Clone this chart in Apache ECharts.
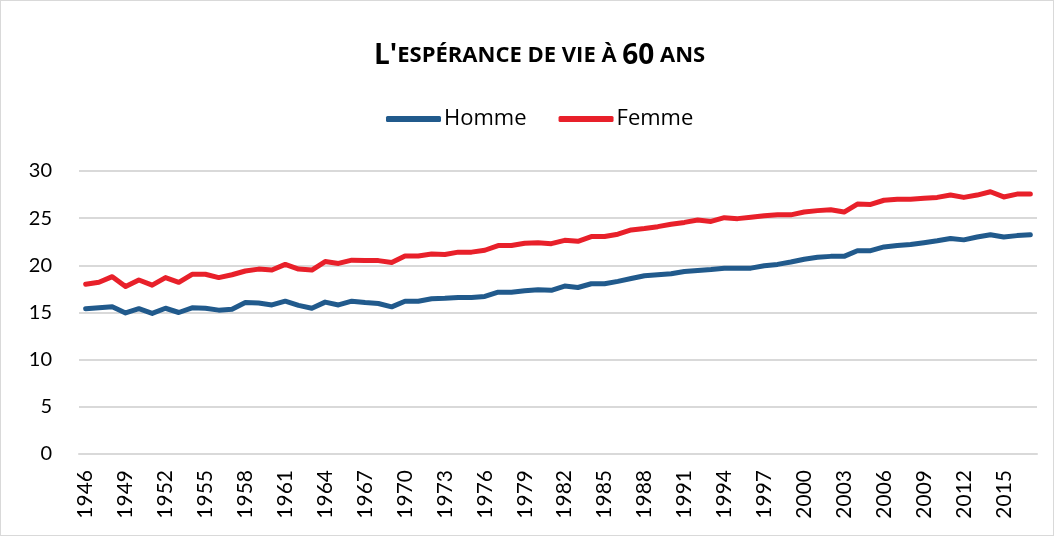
<!DOCTYPE html>
<html>
<head>
<meta charset="utf-8">
<script src="https://cdn.jsdelivr.net/npm/echarts@6/dist/echarts.min.js"></script>
<style>
html,body{margin:0;padding:0;background:#fff;}
#chart{width:1054px;height:536px;box-sizing:border-box;border:1px solid #D9D9D9;}
</style>
</head>
<body>
<div id="chart"></div>
<script>
const years = [];
for (let y = 1946; y <= 2017; y++) years.push(String(y));

const homme = [15.4,15.5,15.6,14.95,15.4,14.9,15.45,15.0,15.5,15.45,15.25,15.35,
  16.05,16.0,15.8,16.2,15.75,15.45,16.1,15.8,16.2,16.05,15.95,15.6,
  16.2,16.2,16.45,16.5,16.6,16.6,16.7,17.15,17.15,17.3,17.4,17.35,
  17.8,17.65,18.05,18.05,18.3,18.6,18.9,19.0,19.1,19.35,19.45,19.55,
  19.7,19.7,19.7,19.95,20.1,20.35,20.65,20.85,20.95,20.95,21.55,21.55,
  21.95,22.1,22.2,22.4,22.6,22.85,22.7,23.0,23.25,23.0,23.15,23.25];

const femme = [18.0,18.2,18.8,17.75,18.45,17.9,18.7,18.2,19.05,19.05,18.7,19.0,
  19.4,19.6,19.5,20.1,19.6,19.5,20.4,20.2,20.55,20.5,20.5,20.3,
  21.0,21.0,21.2,21.15,21.4,21.4,21.6,22.1,22.1,22.35,22.4,22.3,
  22.65,22.55,23.05,23.05,23.3,23.75,23.9,24.1,24.35,24.55,24.8,24.65,
  25.05,24.95,25.1,25.25,25.35,25.35,25.65,25.8,25.9,25.65,26.5,26.45,
  26.9,27.0,27.0,27.1,27.2,27.45,27.2,27.45,27.8,27.25,27.55,27.55];

const seriesNames = ['Homme', 'Femme'];
const colors = ['#215A8C', '#E8202A'];
const font = 'Lato, "Open Sans", sans-serif';
const font2 = '"Open Sans", Lato, sans-serif';

const chart = echarts.init(document.getElementById('chart'));
chart.setOption({
  animation: false,
  textStyle: { fontFamily: font },
  title: {
    text: "{big|L'}{small|ESPÉRANCE DE VIE À }{big|60}{small| ANS}",
    left: 368,
    top: 36,
    textStyle: {
      rich: {
        big: { fontFamily: font2, fontWeight: 'bold', fontSize: 28, color: '#000' },
        small: { fontFamily: font2, fontWeight: 'bold', fontSize: 22, color: '#000' }
      }
    }
  },
  legend: {
    top: 102,
    left: 380,
    icon: 'roundRect',
    itemWidth: 55,
    itemHeight: 6,
    itemGap: 32,
    textStyle: { fontFamily: font2, fontSize: 22, color: '#000', padding: [0, 0, 0, -2] },
    data: seriesNames
  },
  grid: { left: 78, right: 16, top: 170, bottom: 81, containLabel: false },
  xAxis: {
    type: 'category',
    data: years,
    boundaryGap: true,
    axisLine: { show: true, lineStyle: { color: '#D9D9D9', width: 2 } },
    axisTick: { show: false },
    axisLabel: { interval: 2, rotate: 90, margin: 16, fontSize: 21, color: '#000', fontFamily: font }
  },
  yAxis: {
    type: 'value',
    min: 0, max: 30, interval: 5,
    axisLine: { show: false },
    axisTick: { show: false },
    axisLabel: { margin: 27, fontSize: 20, color: '#000', fontFamily: font },
    splitLine: { lineStyle: { color: '#D9D9D9', width: 2 } }
  },
  series: [
    { name: seriesNames[0], type: 'line', data: homme, symbol: 'none', color: colors[0],
      lineStyle: { width: 5, color: colors[0], cap: 'round', join: 'round' } },
    { name: seriesNames[1], type: 'line', data: femme, symbol: 'none', color: colors[1],
      lineStyle: { width: 5, color: colors[1], cap: 'round', join: 'round' } }
  ]
});
</script>
</body>
</html>
